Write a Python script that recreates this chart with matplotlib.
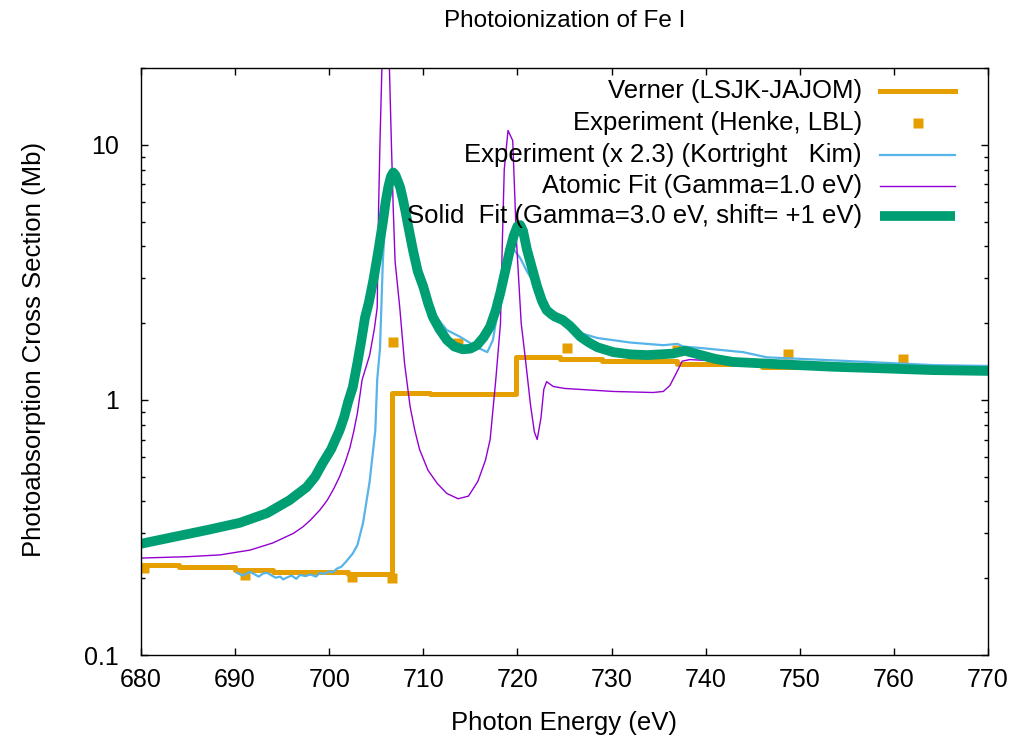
#!/usr/bin/env python3
"""Fe I L-edge photoabsorption: Verner fit, experiments and R-matrix fits."""

import matplotlib

matplotlib.use("Agg")
import matplotlib.pyplot as plt
from matplotlib.lines import Line2D
from matplotlib.ticker import FixedLocator, FixedFormatter, LogLocator, NullFormatter

# Verner (LSJK-JAJOM) step values, eV / Mb
verner_e = [680, 684, 690, 694, 702, 706.7, 710.7, 719.8, 724.5, 729, 737, 746, 757, 770]
verner_v = [0.225, 0.222, 0.215, 0.211, 0.208, 1.07, 1.06, 1.48, 1.45, 1.42, 1.39, 1.35, 1.32, 1.29]

# Henke (LBL) tabulated points
henke_e = [680.3, 691.1, 702.4, 706.7, 706.8, 713.7, 725.3, 737.0, 748.8, 761.0]
henke_v = [0.219, 0.206, 0.202, 0.200, 1.69, 1.67, 1.60, 1.57, 1.52, 1.45]

# Kortright & Kim measurement, scaled by 2.3
kk_e = [690.2, 690.8, 691.6, 692.1, 692.5, 693.0, 693.4, 693.9, 694.3, 694.8,
        695.1, 695.6, 696.0, 696.5, 696.9, 697.5, 698.0, 698.6, 699.0, 699.5,
        700.0, 700.4, 700.8, 701.3, 701.9, 702.5, 703.0, 703.6, 704.3, 704.9,
        705.1, 705.4, 705.7, 706.0, 706.4, 706.8, 707.3, 707.8, 708.6, 709.6,
        710.0, 711.0, 712.5, 713.9, 715.7, 716.8, 717.4, 718.2, 719.0, 719.6,
        720.3, 721.0, 721.7, 722.4, 723.0, 723.8, 724.6, 725.3, 726.7, 728.5,
        732.0, 735.5, 737.0, 737.6, 739.4, 744.0, 746.5, 751.8, 757.2, 764.2,
        770.0]
kk_v = [0.21, 0.205, 0.212, 0.207, 0.203, 0.209, 0.21, 0.205, 0.201, 0.203,
        0.198, 0.202, 0.205, 0.199, 0.206, 0.204, 0.207, 0.203, 0.21, 0.208,
        0.213, 0.211, 0.218, 0.222, 0.235, 0.25, 0.27, 0.33, 0.48, 0.76,
        1.2, 1.6, 3.5, 5.5, 7.0, 7.5, 6.8, 5.5, 4.0, 3.14,
        2.96, 2.2, 1.88, 1.77, 1.61, 1.54, 1.72, 2.6, 3.5, 3.9,
        3.6, 3.2, 2.9, 2.35, 2.2, 2.12, 2.08, 2.0, 1.83, 1.75,
        1.68, 1.64, 1.66, 1.62, 1.60, 1.54, 1.47, 1.44, 1.41, 1.37,
        1.36]

# Atomic fit, Gamma = 1.0 eV
atomic_e = [680.0, 684.9, 688.4, 691.6, 694.0, 696.2, 697.2, 698.0, 699.0, 699.8,
            700.5, 701.1, 701.7, 702.2, 702.6, 703.0, 703.5, 704.3, 704.8, 705.1,
            705.25, 705.4, 705.6, 705.9, 706.2, 706.4, 706.6, 706.8, 707.0, 707.5,
            708.0, 708.6, 709.1, 709.6, 710.5, 711.5, 712.5, 713.7, 714.8, 715.8,
            716.6, 717.1, 717.7, 718.2, 718.4, 718.6, 719.0, 719.5, 719.9, 720.4,
            720.8, 721.4, 721.8, 722.1, 722.5, 722.8, 723.1, 723.8, 725.0, 726.7,
            730.2, 734.4, 735.5, 736.2, 737.0, 737.5, 738.3, 740.0, 745.0, 750.0,
            755.0, 760.0, 765.0, 770.0]
atomic_v = [0.24, 0.243, 0.247, 0.258, 0.275, 0.30, 0.318, 0.338, 0.37, 0.405,
            0.45, 0.50, 0.57, 0.65, 0.75, 0.89, 1.2, 1.5, 1.9, 2.3,
            5.7, 10.4, 20.0, 35.0, 35.0, 20.0, 10.4, 5.7, 3.5, 2.3,
            1.4, 0.94, 0.76, 0.64, 0.53, 0.47, 0.43, 0.41, 0.42, 0.48,
            0.58, 0.70, 1.2, 2.0, 4.2, 8.0, 11.4, 10.4, 4.2, 2.0,
            1.5, 0.95, 0.75, 0.70, 0.85, 1.1, 1.18, 1.13, 1.11, 1.10,
            1.08, 1.07, 1.08, 1.14, 1.30, 1.42, 1.44, 1.43, 1.40, 1.37,
            1.35, 1.33, 1.31, 1.29]

# Solid fit, Gamma = 3.0 eV, shifted +1 eV
solid_e = [680.0, 683.4, 687.0, 690.5, 693.4, 695.8, 697.6, 698.5, 699.3, 700.2,
           701.1, 701.6, 702.0, 702.5, 703.0, 703.4, 703.8, 704.2, 704.7, 705.2,
           705.7, 706.0, 706.3, 706.55, 706.8, 707.05, 707.3, 707.55, 707.8, 708.1,
           708.4, 708.9, 709.4, 710.0, 710.5, 711.0, 711.7, 712.5, 713.3, 714.2,
           715.0, 715.7, 716.4, 717.1, 717.7, 718.2, 718.7, 719.2, 719.6, 720.0,
           720.3, 720.6, 721.0, 721.35, 721.7, 722.1, 722.6, 723.1, 723.6, 724.0,
           724.8, 725.6, 726.7, 727.6, 728.5, 730.2, 732.0, 733.8, 736.5, 737.8,
           739.5, 741.0, 742.9, 748.0, 753.5, 759.0, 764.0, 770.0]
solid_v = [0.273, 0.29, 0.309, 0.33, 0.36, 0.405, 0.455, 0.50, 0.565, 0.64,
           0.76, 0.86, 0.98, 1.12, 1.4, 1.7, 2.1, 2.4, 2.96, 3.8,
           4.97, 6.0, 6.9, 7.5, 7.8, 7.6, 7.2, 6.8, 6.2, 5.5,
           4.8, 3.87, 3.2, 2.78, 2.4, 2.12, 1.9, 1.72, 1.62, 1.58,
           1.59, 1.64, 1.76, 1.94, 2.25, 2.65, 3.2, 3.87, 4.4, 4.8,
           4.85, 4.6, 3.9, 3.5, 3.14, 2.78, 2.45, 2.25, 2.17, 2.12,
           2.06, 1.95, 1.77, 1.68, 1.61, 1.54, 1.51, 1.50, 1.52, 1.56,
           1.50, 1.45, 1.41, 1.38, 1.35, 1.33, 1.31, 1.30]

x_ticks = [680, 690, 700, 710, 720, 730, 740, 750, 760, 770]
y_ticks = [0.1, 1, 10]
y_tick_labels = ["0.1", "1", "10"]

labels = [
    "Verner (LSJK-JAJOM)",
    "Experiment (Henke, LBL)",
    "Experiment (x 2.3) (Kortright   Kim)",
    "Atomic Fit (Gamma=1.0 eV)",
    "Solid  Fit (Gamma=3.0 eV, shift= +1 eV)",
]

ORANGE = "#e69f00"
SKY = "#56b4e9"
PURPLE = "#9400d3"
GREEN = "#009e73"

plt.rcParams["font.family"] = ["Liberation Sans", "DejaVu Sans"]
plt.rcParams["font.size"] = 18

fig = plt.figure(figsize=(10.09, 7.41), dpi=100)
ax = fig.add_axes([0.1397, 0.116, 0.8395, 0.792])

ax.plot(verner_e, verner_v, drawstyle="steps-post", color=ORANGE, lw=3.6)
ax.plot(henke_e, henke_v, ls="none", marker="s", ms=7, color=ORANGE, mec="none")
ax.plot(kk_e, kk_v, color=SKY, lw=1.6)
ax.plot(atomic_e, atomic_v, color=PURPLE, lw=1.0)
ax.plot(solid_e, solid_v, color=GREEN, lw=7, solid_capstyle="butt", solid_joinstyle="round")

ax.set_yscale("log")
ax.set_xlim(680, 770)
ax.set_ylim(0.1, 20)
ax.set_xticks(x_ticks)
ax.set_xticklabels([str(t) for t in x_ticks])
ax.yaxis.set_major_locator(FixedLocator(y_ticks))
ax.yaxis.set_major_formatter(FixedFormatter(y_tick_labels))
ax.yaxis.set_minor_locator(LogLocator(base=10, subs=range(2, 10)))
ax.yaxis.set_minor_formatter(NullFormatter())

ax.tick_params(which="both", direction="in", top=True, right=True, width=1.0)
ax.tick_params(which="major", length=5)
ax.tick_params(which="minor", length=3)
ax.tick_params(axis="x", which="major", pad=9)
ax.tick_params(axis="y", which="major", pad=16)
for s in ax.spines.values():
    s.set_linewidth(1.0)

ax.set_title("Photoionization of Fe I", fontsize=17.5, pad=30)
ax.set_xlabel("Photon Energy (eV)", fontsize=18.5, labelpad=14)
ax.set_ylabel("Photoabsorption Cross Section (Mb)", fontsize=18.5)
ax.yaxis.set_label_coords(-0.112, 0.52)

# gnuplot-style key: right-aligned text, sample to its right
key_y = [0.961, 0.906, 0.852, 0.799, 0.748]
styles = [
    dict(color=ORANGE, lw=3.6),
    dict(color=ORANGE, ls="none", marker="s", ms=7, mec="none"),
    dict(color=SKY, lw=1.6),
    dict(color=PURPLE, lw=1.0),
    dict(color=GREEN, lw=7, solid_capstyle="butt"),
]
for ky, text, st in zip(key_y, labels, styles):
    ax.text(0.851, ky, text, transform=ax.transAxes, ha="right", va="center",
            fontsize=18.5)
    if st.get("ls") == "none":
        ax.add_line(Line2D([0.917], [ky], transform=ax.transAxes, **st))
    else:
        ax.add_line(Line2D([0.8725, 0.961], [ky, ky], transform=ax.transAxes, **st))

fig.savefig("out.png", dpi=100)
